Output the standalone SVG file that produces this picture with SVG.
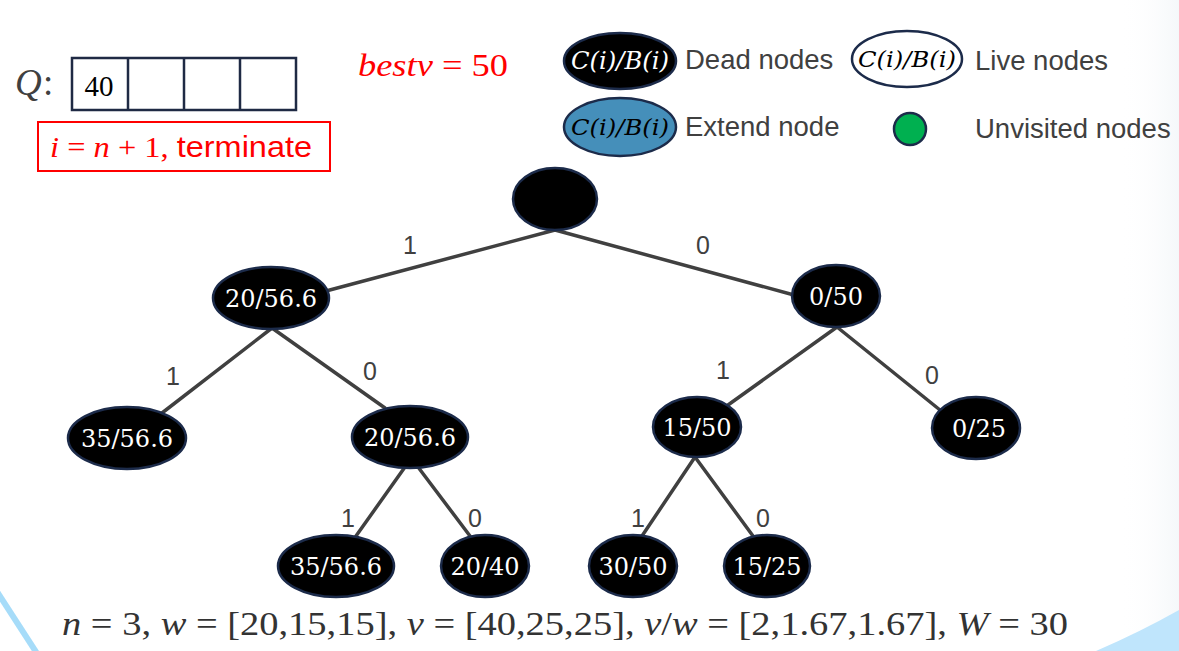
<svg xmlns="http://www.w3.org/2000/svg" width="1179" height="651" viewBox="0 0 1179 651">
<defs>
<linearGradient id="fade" x1="0" y1="0" x2="1" y2="0">
<stop offset="0" stop-color="#ffffff" stop-opacity="0"/>
<stop offset="1" stop-color="#eef3f6" stop-opacity="1"/>
</linearGradient>
</defs>
<style>
.node ellipse{fill:#000;stroke:#1c2b4a;stroke-width:2.5}
.node text{fill:#fff;font-family:"DejaVu Serif",serif;font-size:24px;text-anchor:middle}
.edge{stroke:#404040;stroke-width:3.5;fill:none;stroke-linecap:round}
.elabel{fill:#404040;font-family:"Liberation Sans",Arial,sans-serif;font-size:25px;text-anchor:middle}
.legtext{fill:#404040;font-family:"Liberation Sans",Arial,sans-serif;font-size:27.5px}
.math{font-family:"Liberation Serif","DejaVu Serif",serif}
.it{font-style:italic}
.cbi{font-family:"DejaVu Serif",serif;font-style:italic;font-size:22px;text-anchor:middle}
</style>
<rect width="1179" height="651" fill="#ffffff"/>
<rect x="1120" y="0" width="59" height="651" fill="url(#fade)" opacity="0.6"/>
<!-- background decorations -->
<line x1="-4" y1="590" x2="38" y2="655" stroke="#a6dcf9" stroke-width="6"/>
<path d="M1096,651 Q1140,632 1179,610 L1179,651 Z" fill="#bfe5fc"/>

<!-- queue -->
<g id="queue">
<text x="15" y="95" class="math it" font-size="37" fill="#404040">Q</text>
<text x="43" y="95" class="math" font-size="37" fill="#404040">:</text>
<rect x="72" y="58" width="224" height="52" fill="#fff" stroke="#1f2a44" stroke-width="2.5"/>
<line x1="128" y1="58" x2="128" y2="110" stroke="#1f2a44" stroke-width="2.5"/>
<line x1="184" y1="58" x2="184" y2="110" stroke="#1f2a44" stroke-width="2.5"/>
<line x1="240" y1="58" x2="240" y2="110" stroke="#1f2a44" stroke-width="2.5"/>
<text x="99" y="96" class="math" font-size="29" fill="#000" text-anchor="middle">40</text>
</g>

<g id="terminate">
<rect x="38" y="122" width="292" height="49" fill="none" stroke="#ff0000" stroke-width="2"/>
<text x="50" y="157" fill="#ff0000" font-size="29" textLength="262" lengthAdjust="spacingAndGlyphs"><tspan class="math it">i</tspan><tspan class="math"> = </tspan><tspan class="math it">n</tspan><tspan class="math"> + 1, </tspan><tspan font-family="Liberation Sans, Arial, sans-serif">terminate</tspan></text>
</g>

<g id="bestv">
<text x="358" y="76" fill="#ff0000" font-size="31" textLength="150" lengthAdjust="spacingAndGlyphs"><tspan class="math it">bestv</tspan><tspan class="math"> = 50</tspan></text>
</g>

<!-- legend -->
<g id="legend-dead" class="node">
<ellipse cx="620" cy="61" rx="56" ry="28"/>
<text x="620" y="69" class="cbi" textLength="98" lengthAdjust="spacingAndGlyphs">C(i)/B(i)</text>
<text x="685" y="69" style="fill:#404040;font-family:'Liberation Sans',Arial,sans-serif;font-size:27.5px;text-anchor:start">Dead nodes</text>
</g>
<g id="legend-live">
<ellipse cx="907" cy="59" rx="55" ry="28" fill="#fff" stroke="#1c2b4a" stroke-width="2.5"/>
<text x="907" y="67" class="cbi" fill="#000" textLength="98" lengthAdjust="spacingAndGlyphs">C(i)/B(i)</text>
<text x="975" y="70" class="legtext">Live nodes</text>
</g>
<g id="legend-extend">
<ellipse cx="620" cy="127" rx="56" ry="29" fill="#458fba" stroke="#1c2b4a" stroke-width="2.5"/>
<text x="620" y="135" class="cbi" fill="#000" textLength="98" lengthAdjust="spacingAndGlyphs">C(i)/B(i)</text>
<text x="685" y="136" class="legtext">Extend node</text>
</g>
<g id="legend-unvisited">
<ellipse cx="910" cy="129" rx="16" ry="16" fill="#00b050" stroke="#1c2b4a" stroke-width="2.5"/>
<text x="975" y="138" class="legtext">Unvisited nodes</text>
</g>

<!-- connectors -->
<g id="connectors">
<line class="edge" x1="555" y1="230" x2="326" y2="291"/>
<line class="edge" x1="555" y1="230" x2="794" y2="295"/>
<line class="edge" x1="272" y1="328" x2="162" y2="413"/>
<line class="edge" x1="272" y1="328" x2="385" y2="408"/>
<line class="edge" x1="405" y1="467" x2="356" y2="536"/>
<line class="edge" x1="418" y1="467" x2="470" y2="536"/>
<line class="edge" x1="837" y1="327" x2="728" y2="405"/>
<line class="edge" x1="837" y1="327" x2="940" y2="410"/>
<line class="edge" x1="695" y1="457" x2="642" y2="536"/>
<line class="edge" x1="695" y1="457" x2="753" y2="536"/>
<text class="elabel" x="410" y="254">1</text>
<text class="elabel" x="703" y="254">0</text>
<text class="elabel" x="173" y="385">1</text>
<text class="elabel" x="370" y="380">0</text>
<text class="elabel" x="723" y="379">1</text>
<text class="elabel" x="932" y="384">0</text>
<text class="elabel" x="348" y="527">1</text>
<text class="elabel" x="475" y="527">0</text>
<text class="elabel" x="638" y="527">1</text>
<text class="elabel" x="763" y="527">0</text>
</g>

<!-- nodes -->
<g id="n-root" class="node"><ellipse cx="555" cy="199" rx="42" ry="31"/></g>
<g id="n-1" class="node"><ellipse cx="271" cy="298" rx="58" ry="31"/><text x="271" y="307">20/56.6</text></g>
<g id="n-0" class="node"><ellipse cx="836" cy="296" rx="44" ry="31"/><text x="836" y="305">0/50</text></g>
<g id="n-11" class="node"><ellipse cx="127" cy="438" rx="59" ry="31"/><text x="127" y="447">35/56.6</text></g>
<g id="n-10" class="node"><ellipse cx="410" cy="437" rx="58" ry="31"/><text x="410" y="446">20/56.6</text></g>
<g id="n-01" class="node"><ellipse cx="697" cy="427" rx="44" ry="30"/><text x="697" y="436">15/50</text></g>
<g id="n-00" class="node"><ellipse cx="976" cy="428" rx="44" ry="31"/><text x="979" y="437">0/25</text></g>
<g id="n-101" class="node"><ellipse cx="336" cy="566" rx="58" ry="31"/><text x="336" y="575">35/56.6</text></g>
<g id="n-100" class="node"><ellipse cx="485" cy="566" rx="44" ry="31"/><text x="485" y="575">20/40</text></g>
<g id="n-011" class="node"><ellipse cx="633" cy="566" rx="44" ry="31"/><text x="633" y="575">30/50</text></g>
<g id="n-010" class="node"><ellipse cx="767" cy="566" rx="43" ry="31"/><text x="767" y="575">15/25</text></g>

<!-- problem statement -->
<g id="formula">
<text x="62" y="635" class="math" font-size="33" fill="#333" textLength="1006" lengthAdjust="spacingAndGlyphs"><tspan class="it">n</tspan> = 3, <tspan class="it">w</tspan> = [20,15,15], <tspan class="it">v</tspan> = [40,25,25], <tspan class="it">v</tspan>/<tspan class="it">w</tspan> = [2,1.67,1.67], <tspan class="it">W</tspan> = 30</text>
</g>
</svg>
